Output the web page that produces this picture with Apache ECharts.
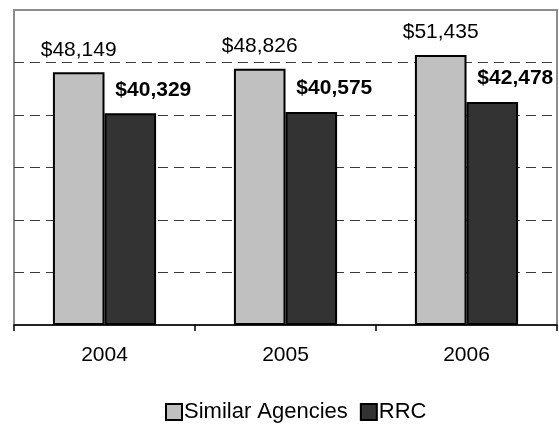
<!DOCTYPE html>
<html>
<head>
<meta charset="utf-8">
<script src="https://cdn.jsdelivr.net/npm/echarts@6/dist/echarts.min.js"></script>
<style>
  html, body { margin: 0; padding: 0; background: #ffffff; }
  #chart { width: 559px; height: 428px; }
</style>
</head>
<body>
<div id="chart"></div>
<script>
// Average salary comparison by year
const years = ['2004', '2005', '2006'];
const similarAgencies = [48149, 48826, 51435];
const rrc = [40329, 40575, 42478];
const seriesNames = ['Similar Agencies', 'RRC'];

const FONT = '"Liberation Sans", Arial, sans-serif';
const money = v => '$' + v.toLocaleString('en-US');

const chart = echarts.init(document.getElementById('chart'), null, { renderer: 'canvas' });

chart.setOption({
  animation: false,
  backgroundColor: '#ffffff',
  textStyle: { fontFamily: FONT },
  grid: {
    left: 14, right: 2, top: 10, bottom: 103,
    show: true, borderColor: '#8c8c8c', borderWidth: 2, backgroundColor: 'transparent'
  },
  legend: {
    data: seriesNames,
    top: 396,
    left: 160,
    icon: 'rect',
    itemWidth: 16,
    itemHeight: 16,
    itemGap: 12,
    textStyle: { fontFamily: FONT, fontSize: 22, color: '#000', padding: [0, 0, 0, -3] }
  },
  xAxis: {
    type: 'category',
    data: years,
    axisLine: { show: true, lineStyle: { color: '#000', width: 1.5 } },
    axisTick: { show: true, length: 6, lineStyle: { color: '#000', width: 1.5 } },
    axisLabel: { fontFamily: FONT, fontSize: 21, color: '#000', margin: 20 }
  },
  yAxis: {
    type: 'value',
    min: 0, max: 60000, interval: 10000,
    axisLabel: { show: false },
    axisLine: { show: false },
    axisTick: { show: false },
    splitLine: {
      show: true,
      showMinLine: false,
      showMaxLine: false,
      lineStyle: { color: '#3a3a3a', width: 1, type: [10, 6] }
    }
  },
  series: [
    {
      name: seriesNames[0],
      type: 'bar',
      data: similarAgencies,
      barGap: '0%',
      barCategoryGap: '43%',
      itemStyle: { color: '#c0c0c0', borderColor: '#000', borderWidth: 2 },
      label: {
        show: true,
        position: 'top',
        distance: 12,
        fontFamily: FONT,
        fontSize: 21,
        color: '#000',
        formatter: p => money(p.value)
      }
    },
    {
      name: seriesNames[1],
      type: 'bar',
      data: rrc,
      barGap: '0%',
      barCategoryGap: '43%',
      itemStyle: { color: '#333333', borderColor: '#000', borderWidth: 2 },
      label: {
        show: true,
        position: 'top',
        distance: 13,
        offset: [23, 0],
        fontFamily: FONT,
        fontSize: 21,
        fontWeight: 'bold',
        color: '#000',
        formatter: p => money(p.value)
      }
    }
  ]
});
</script>
</body>
</html>
